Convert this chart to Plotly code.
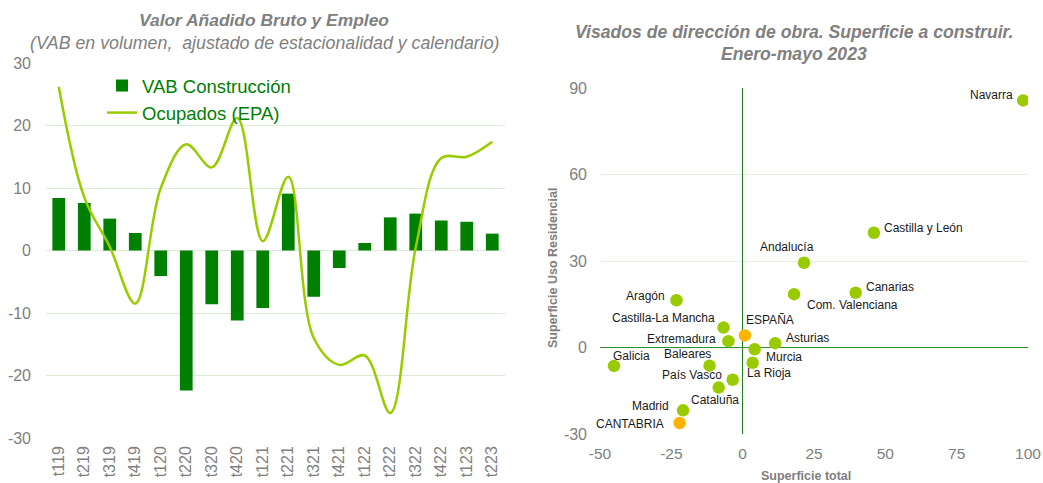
import plotly.graph_objects as go

# ---------------- Data: left chart ----------------
quarters = ["t119", "t219", "t319", "t419", "t120", "t220", "t320", "t420", "t121",
            "t221", "t321", "t421", "t122", "t222", "t322", "t422", "t123", "t223"]
vab_construccion = [8.4, 7.6, 5.1, 2.8, -4.1, -22.4, -8.6, -11.2, -9.2,
                    9.1, -7.4, -2.8, 1.2, 5.3, 5.9, 4.8, 4.6, 2.7]
ocupados_epa = [26.2, 8.5, 0.6, -8.5, 10.0, 17.0, 13.3, 21.2, 1.5,
                11.8, -14.0, -18.3, -16.8, -26.0, 0.5, 14.8, 15.0, 17.4]
left_yticks = [-30, -20, -10, 0, 10, 20, 30]

# ---------------- Data: right chart ----------------
regions = ["Navarra", "Castilla y León", "Andalucía", "Canarias", "Com. Valenciana",
           "Aragón", "Castilla-La Mancha", "ESPAÑA", "Extremadura", "Asturias",
           "Murcia", "Baleares", "La Rioja", "Galicia", "País Vasco", "Cataluña",
           "Madrid", "CANTABRIA"]
sup_total = [98.3, 46.0, 21.5, 39.6, 18.0, -23.2, -6.7, 0.8, -5.0, 11.4,
             4.2, -11.6, 3.5, -45.1, -3.5, -8.4, -20.9, -22.1]
sup_residencial = [85.7, 39.8, 29.4, 19.0, 18.5, 16.4, 6.9, 4.2, 2.2, 1.5,
                   -0.6, -6.3, -5.3, -6.4, -11.2, -13.9, -21.8, -26.2]
highlighted = ["ESPAÑA", "CANTABRIA"]
right_xticks = [-50, -25, 0, 25, 50, 75, 100]
right_yticks = [-30, 0, 30, 60, 90]

# label placement (style): anchor, x shift px, y shift px
label_style = {
    "Navarra": ("right", -8, 5),
    "Castilla y León": ("left", 8, 5),
    "Andalucía": ("center", -17, 16),
    "Canarias": ("left", 8, 6),
    "Com. Valenciana": ("left", 11, -11),
    "Aragón": ("right", -9, 4),
    "Castilla-La Mancha": ("right", -7, 10),
    "ESPAÑA": ("left", -1, 15),
    "Extremadura": ("right", -10, 2),
    "Asturias": ("left", 9, 5),
    "Murcia": ("left", 9, -8),
    "Baleares": ("center", -22, 12),
    "La Rioja": ("left", -8, -10),
    "Galicia": ("left", -3, 10),
    "País Vasco": ("right", -9, 5),
    "Cataluña": ("left", -30, -12),
    "Madrid": ("right", -12, 4),
    "CANTABRIA": ("right", -14, -1),
}

W, H = 1043, 483
FONT = "Liberation Sans, Arial, sans-serif"
GRAY = "#808080"
GRID = "#dcebd6"
DARK_GREEN = "#008000"
LIME = "#99cc00"
ORANGE = "#ffb400"


def px_x(p):
    return p / W


def px_y(p):
    return 1 - p / H


def labels(vals):
    return [str(v) for v in vals]


fig = go.Figure()

fig.add_trace(go.Bar(
    x=quarters, y=vab_construccion, name="VAB Construcción",
    marker=dict(color=DARK_GREEN, line=dict(width=0)), width=0.5,
    xaxis="x", yaxis="y"))
fig.add_trace(go.Scatter(
    x=quarters, y=ocupados_epa, name="Ocupados (EPA)", mode="lines",
    line=dict(color=LIME, width=2.5, shape="spline", smoothing=1.0),
    xaxis="x", yaxis="y"))

colors = [ORANGE if r in highlighted else LIME for r in regions]
fig.add_trace(go.Scatter(
    x=sup_total, y=sup_residencial, mode="markers", showlegend=False,
    marker=dict(color=colors, size=12.5, line=dict(width=0)),
    xaxis="x2", yaxis="y2"))

annotations = []
for r, xv, yv in zip(regions, sup_total, sup_residencial):
    anchor, dx, dy = label_style[r]
    annotations.append(dict(
        x=xv, y=yv, xref="x2", yref="y2", text=r, showarrow=False,
        xanchor=anchor, yanchor="middle", xshift=dx, yshift=dy,
        font=dict(family=FONT, size=12, color="#1a1a1a")))

# titles
annotations += [
    dict(x=px_x(264), y=px_y(20), xref="paper", yref="paper", showarrow=False,
         text="<b><i>Valor Añadido Bruto y Empleo</i></b>",
         xanchor="center", yanchor="middle",
         font=dict(family=FONT, size=17.4, color=GRAY)),
    dict(x=px_x(265), y=px_y(43), xref="paper", yref="paper", showarrow=False,
         text="<i>(VAB en volumen,  ajustado de estacionalidad y calendario)</i>",
         xanchor="center", yanchor="middle",
         font=dict(family=FONT, size=17.8, color=GRAY)),
    dict(x=px_x(794), y=px_y(32), xref="paper", yref="paper", showarrow=False,
         text="<b><i>Visados de dirección de obra. Superficie a construir.</i></b>",
         xanchor="center", yanchor="middle",
         font=dict(family=FONT, size=17.6, color=GRAY)),
    dict(x=px_x(794), y=px_y(54), xref="paper", yref="paper", showarrow=False,
         text="<b><i>Enero-mayo 2023</i></b>",
         xanchor="center", yanchor="middle",
         font=dict(family=FONT, size=17.6, color=GRAY)),
    dict(x=px_x(553), y=px_y(268), xref="paper", yref="paper", showarrow=False,
         text="<b>Superficie Uso Residencial</b>", textangle=-90,
         xanchor="center", yanchor="middle",
         font=dict(family=FONT, size=12.5, color=GRAY)),
    dict(x=px_x(806), y=px_y(476), xref="paper", yref="paper", showarrow=False,
         text="<b>Superficie total</b>",
         xanchor="center", yanchor="middle",
         font=dict(family=FONT, size=12.5, color=GRAY)),
]

fig.update_layout(
    width=W, height=H, autosize=False,
    margin=dict(l=0, r=0, t=0, b=0, pad=0, autoexpand=False),
    paper_bgcolor="white", plot_bgcolor="white",
    font=dict(family=FONT, color=GRAY),
    bargap=0.5,
    showlegend=True,
    legend=dict(x=px_x(102), y=px_y(67), xanchor="left", yanchor="top",
                bgcolor="rgba(0,0,0,0)", font=dict(family=FONT, size=18.5, color=DARK_GREEN),
                itemwidth=30, tracegroupgap=0),
    xaxis=dict(domain=[px_x(46), px_x(505)], type="category",
               range=[-0.5, len(quarters) - 0.5], automargin=False,
               tickangle=-90, tickfont=dict(family=FONT, size=16, color=GRAY),
               showgrid=False, showline=False, zeroline=False, ticks="",
               ticklabelstandoff=4, anchor="y"),
    yaxis=dict(domain=[px_y(438), px_y(63)], range=[-30, 30], automargin=False,
               tickvals=left_yticks, ticktext=labels(left_yticks),
               tickfont=dict(family=FONT, size=16, color=GRAY),
               showgrid=True, gridcolor=GRID, gridwidth=1,
               zeroline=True, zerolinecolor=GRID, zerolinewidth=1,
               showline=False, ticks="", ticklabelstandoff=14, anchor="x"),
    xaxis2=dict(domain=[px_x(600), px_x(1028)], range=[-50, 100], automargin=False,
                tickvals=right_xticks, ticktext=labels(right_xticks),
                tickfont=dict(family=FONT, size=15.5, color=GRAY),
                showgrid=False, zeroline=True, zerolinecolor="#1f7f1f", zerolinewidth=1.2,
                showline=False, ticks="", ticklabelstandoff=8, anchor="y2"),
    yaxis2=dict(domain=[px_y(434), px_y(88)], range=[-30, 90], automargin=False,
                tickvals=right_yticks, ticktext=labels(right_yticks),
                tickfont=dict(family=FONT, size=16, color=GRAY),
                showgrid=True, gridcolor="#e4efe0", gridwidth=1,
                zeroline=True, zerolinecolor="#2e8b2e", zerolinewidth=1.2,
                showline=False, ticks="", ticklabelstandoff=12, anchor="x2"),
    annotations=annotations,
)

fig.write_html(
    "out.html",
    config={"displayModeBar": False},
    post_script="document.body.style.margin='0';document.body.style.overflow='hidden';",
)
